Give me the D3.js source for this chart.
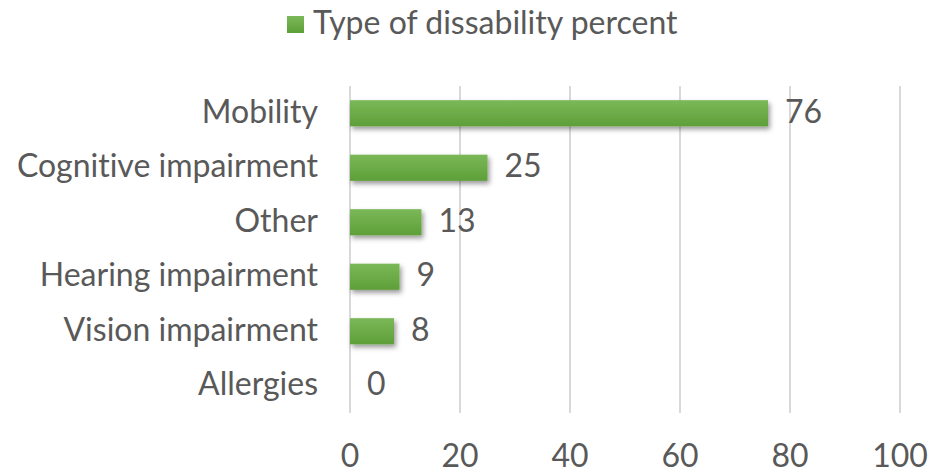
<!DOCTYPE html>
<html><head><meta charset="utf-8">
<script src="https://cdn.jsdelivr.net/npm/d3@7"></script>
<style>body{margin:0;background:#fff}svg{display:block}text{font-family:Lato,"Open Sans",sans-serif;fill:#595959;font-variant-ligatures:none}</style>
</head><body>
<script>
const categories = ["Mobility","Cognitive impairment","Other","Hearing impairment","Vision impairment","Allergies"];
const values = [76,25,13,9,8,0];
const ticks = [0,20,40,60,80,100];
const seriesName = "Type of dissability percent";

const W=930,H=475,FS=32;
const svg=d3.select("body").append("svg").attr("width",W).attr("height",H);
const defs=svg.append("defs");
const g=defs.append("linearGradient").attr("id","bg").attr("x1",0).attr("y1",0).attr("x2",0).attr("y2",1);
g.append("stop").attr("offset","0%").attr("stop-color","#7bb858");
g.append("stop").attr("offset","100%").attr("stop-color","#5e9f38");
const f=defs.append("filter").attr("id","sh").attr("x","-10%").attr("y","-50%").attr("width","130%").attr("height","220%");
f.append("feDropShadow").attr("dx",2).attr("dy",3).attr("stdDeviation",2.5).attr("flood-color","#000").attr("flood-opacity",0.4);

const x=d3.scaleLinear().domain([0,100]).range([350,900]);
const y=d3.scaleBand().domain(categories).range([86,413]).paddingInner(0.52).paddingOuter(0.26);

svg.append("g").selectAll("line").data(ticks).join("line")
 .attr("x1",d=>x(d)).attr("x2",d=>x(d)).attr("y1",86).attr("y2",413)
 .attr("stroke","#d9d9d9").attr("stroke-width",2);

svg.append("g").selectAll("rect").data(values).join("rect")
 .attr("x",x(0)).attr("y",(d,i)=>y(categories[i])).attr("width",d=>x(d)-x(0)).attr("height",y.bandwidth())
 .attr("fill","url(#bg)").attr("filter","url(#sh)");

svg.append("g").selectAll("text").data(values).join("text")
 .attr("x",d=>x(d)+17).attr("y",(d,i)=>y(categories[i])+y.bandwidth()/2).attr("dy","0.3em")
 .attr("font-size",FS).text(d=>d);

svg.append("g").selectAll("text").data(categories).join("text")
 .attr("x",318).attr("y",d=>y(d)+y.bandwidth()/2).attr("dy","0.3em").attr("text-anchor","end")
 .attr("font-size",FS).text(d=>d);

svg.append("g").selectAll("text").data(ticks).join("text")
 .attr("x",d=>x(d)).attr("y",457).attr("dy","0.3em").attr("text-anchor","middle")
 .attr("font-size",FS).text(d=>d);

const lg=svg.append("g");
lg.append("rect").attr("x",287).attr("y",16).attr("width",17).attr("height",17).attr("fill","url(#bg)");
lg.append("text").attr("x",313).attr("y",24).attr("dy","0.3em").attr("font-size",FS).text(seriesName);
</script>
</body></html>
